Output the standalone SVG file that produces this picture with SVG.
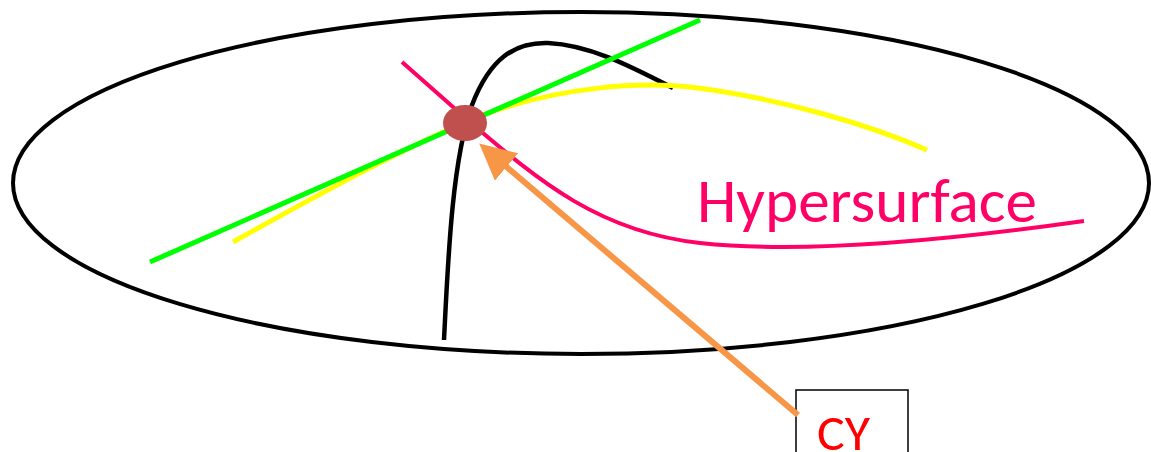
<svg xmlns="http://www.w3.org/2000/svg" width="1151" height="452" viewBox="0 0 1151 452">
<defs>
<style>
.c{fill:none;stroke-linecap:butt}
.t{font-family:Carlito,'Liberation Sans',sans-serif}
</style>
<marker id="ah" markerWidth="6" markerHeight="6" refX="1" refY="3" orient="auto" markerUnits="strokeWidth" viewBox="0 0 6 6">
<path d="M0,0 L6,3 L0,6 Z" fill="#f79646"/>
</marker>
</defs>
<rect width="1151" height="452" fill="#fff"/>
<g id="surface">
<ellipse cx="581" cy="183" rx="568" ry="171" fill="none" stroke="#000" stroke-width="4"/>
</g>
<g id="curves">
<path class="c" d="M444,340 C448,260 452,160 472,105 C490,58 515,42 548,43 C590,45 630,66 673,88" stroke="#000" stroke-width="4.5"/>
<path class="c" d="M233,242 C330,188 410,145 480,116 C560,86 640,82 690,87 C780,98 870,125 927,150" stroke="#ffff00" stroke-width="5"/>
<path class="c" d="M150,262 L700,20" stroke="#00ff00" stroke-width="5"/>
<path class="c" d="M402,62 L470,122 C540,182 600,232 700,243 C800,254 950,240 1084,221" stroke="#ff0066" stroke-width="4"/>
</g>
<g id="point">
<ellipse cx="465" cy="123" rx="22" ry="18" fill="#c0504d"/>
</g>
<g id="label-hyper">
<text class="t" x="697" y="222" font-size="62" fill="#ff0066" textLength="340" lengthAdjust="spacingAndGlyphs">Hypersurface</text>
</g>
<g id="cy">
<rect x="796" y="390" width="112" height="70" fill="#fff" stroke="#000" stroke-width="1.5"/>
<text class="t" x="817" y="450" font-size="50" fill="#ff0000" textLength="53" lengthAdjust="spacingAndGlyphs">CY</text>
</g>
<g id="connectors">
<path d="M798,415 L502,163" stroke="#f79646" stroke-width="6" fill="none" marker-end="url(#ah)"/>
</g>
</svg>
